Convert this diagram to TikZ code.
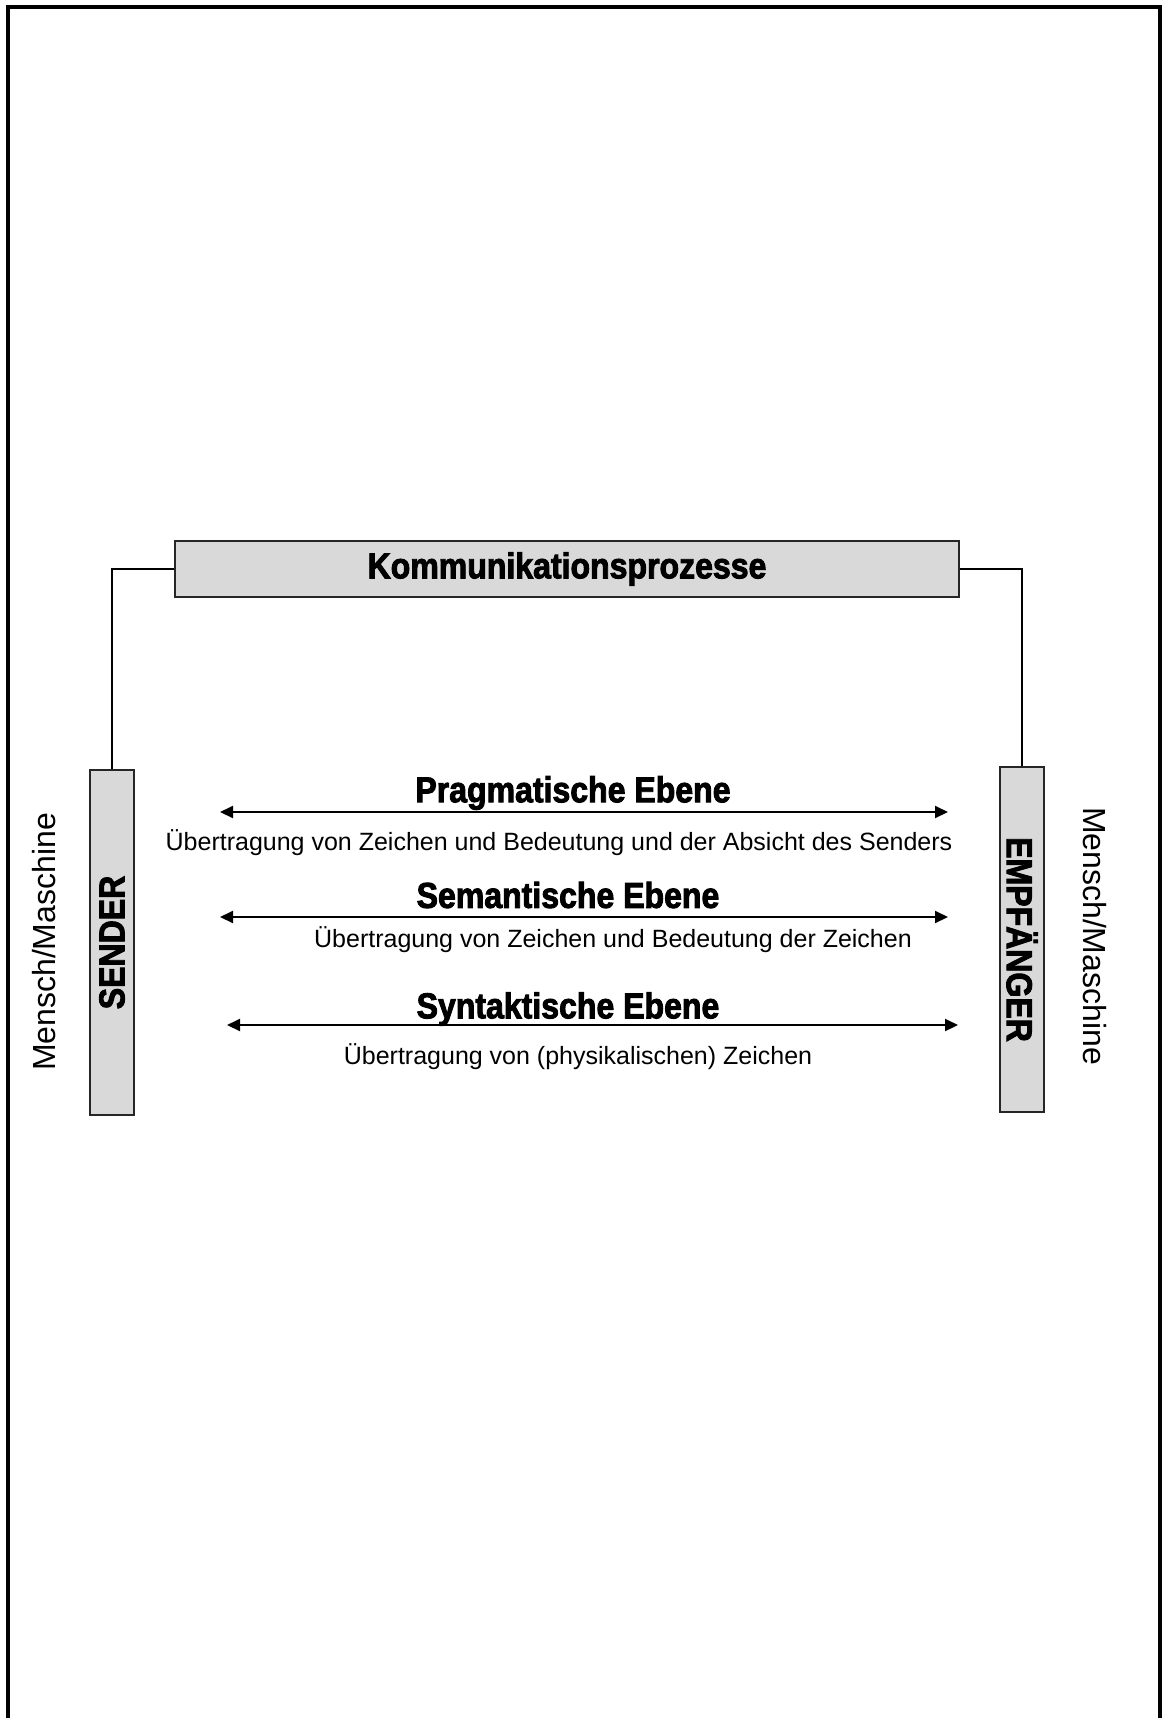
\documentclass[tikz,border=0pt]{standalone}
\usepackage{fontspec}
\setmainfont{Liberation Sans}
\newfontfamily\headfont{Liberation Sans}[FakeStretch=0.89,BoldFeatures={FakeBold=2.5}]
\usetikzlibrary{arrows.meta}

\tikzset{
  graubox/.style={draw=black!85, line width=1pt, fill=black!15, inner sep=0pt},
  ebene/.style={font=\headfont\bfseries\fontsize{18}{20}\selectfont, inner sep=0pt},
  erkl/.style={font=\fontsize{12.5}{14}\selectfont, inner sep=0pt},
  pfeil/.style={line width=1pt, {Triangle[length=6.5pt,width=6pt]}-{Triangle[length=6.5pt,width=6pt]}}
}

\begin{document}
\begin{tikzpicture}[x=0.5pt, y=-0.5pt]
    \useasboundingbox (0,0) rectangle (1162,1718);

    % 外枠
    \draw[line width=1.6pt] (8,1718) -- (8,7) -- (1160,7) -- (1160,1718);

    % 上の箱
    \node[graubox, minimum width=392pt, minimum height=28pt, font=\headfont\bfseries\fontsize{18}{20}\selectfont] (titel) at (567,569) {Kommunikationsprozesse};

    % 送信側と受信側
    \node[graubox, minimum width=172.5pt, minimum height=22pt, rotate=90, font=\headfont\bfseries\fontsize{18}{20}\selectfont] (sender) at (112,942.5) {SENDER};
    \node[graubox, minimum width=172.5pt, minimum height=22pt, rotate=-90, font=\headfont\bfseries\fontsize{18}{20}\selectfont] (empf) at (1022,939.5) {EMPFÄNGER};
    \node[rotate=90, font=\fontsize{16}{18}\selectfont] (mmL) at (44,942) {Mensch/Maschine};
    \node[rotate=-90, font=\fontsize{16}{18}\selectfont] (mmR) at (1095,936) {Mensch/Maschine};

    % 結合線
    \draw[line width=0.9pt] (titel.west) -| (sender.east);
    \draw[line width=0.9pt] (titel.east) -| (empf.west);

    % 三つの層
    \node[ebene] (prag) at (573,793) {Pragmatische Ebene};
    \coordinate (prL) at (220,812);
    \coordinate (prR) at (948,812);
    \draw[pfeil] (prL) -- (prR);
    \node[erkl] (pragT) at (559,843) {Übertragung von Zeichen und Bedeutung und der Absicht des Senders};

    \node[ebene] (sem) at (568,895) {Semantische Ebene};
    \coordinate (seL) at (220,917);
    \coordinate (seR) at (948,917);
    \draw[pfeil] (seL) -- (seR);
    \node[erkl] (semT) at (613,940) {Übertragung von Zeichen und Bedeutung der Zeichen};

    \node[ebene] (syn) at (568,1009) {Syntaktische Ebene};
    \coordinate (syL) at (227,1025);
    \coordinate (syR) at (958,1025);
    \draw[pfeil] (syL) -- (syR);
    \node[erkl] (synT) at (578,1057) {Übertragung von (physikalischen) Zeichen};
\end{tikzpicture}
\end{document}
